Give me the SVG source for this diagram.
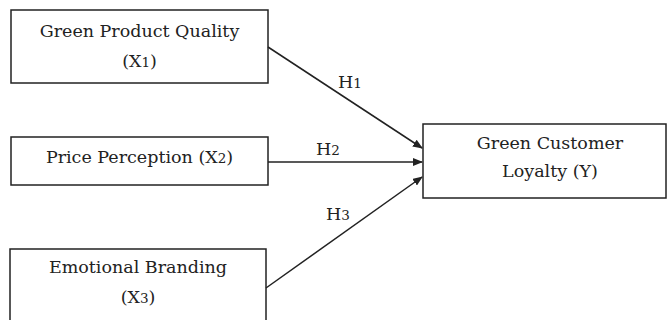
<svg xmlns="http://www.w3.org/2000/svg" width="667" height="320" viewBox="0 0 667 320">
<style>
.box{fill:#fff;stroke:#222;stroke-width:1.5}
.t{font-family:"DejaVu Serif","Liberation Serif",serif;font-size:17.5px;fill:#222;text-anchor:middle}
.d{font-size:13.5px}
.c{stroke:#222;stroke-width:1.5;fill:none}
</style>
<defs>
<marker id="ah" markerWidth="10" markerHeight="8" refX="9" refY="4" orient="auto" markerUnits="userSpaceOnUse">
<path d="M0,0 L10,4 L0,8 Z" fill="#222"/>
</marker>
</defs>
<rect width="667" height="320" fill="#fff"/>
<g id="x1">
<rect class="box" x="11" y="10" width="257" height="73"/>
<text class="t" x="139.5" y="37">Green Product Quality</text>
<text class="t" x="139.5" y="67">(X<tspan class="d">1</tspan>)</text>
</g>
<g id="x2">
<rect class="box" x="11" y="137" width="257" height="48"/>
<text class="t" x="139.5" y="163">Price Perception (X<tspan class="d">2</tspan>)</text>
</g>
<g id="x3">
<rect class="box" x="10" y="249" width="256" height="80"/>
<text class="t" x="138" y="273">Emotional Branding</text>
<text class="t" x="138" y="303">(X<tspan class="d">3</tspan>)</text>
</g>
<g id="y">
<rect class="box" x="423" y="124" width="243" height="74"/>
<text class="t" x="550" y="149">Green Customer</text>
<text class="t" x="550" y="177">Loyalty (Y)</text>
</g>
<g id="connectors">
<line class="c" x1="268" y1="47" x2="422" y2="148" marker-end="url(#ah)"/>
<line class="c" x1="268" y1="162" x2="422" y2="162" marker-end="url(#ah)"/>
<line class="c" x1="266" y1="288" x2="422" y2="177" marker-end="url(#ah)"/>
<text class="t" x="350" y="88">H<tspan class="d">1</tspan></text>
<text class="t" x="328" y="155">H<tspan class="d">2</tspan></text>
<text class="t" x="338" y="220">H<tspan class="d">3</tspan></text>
</g>
</svg>
